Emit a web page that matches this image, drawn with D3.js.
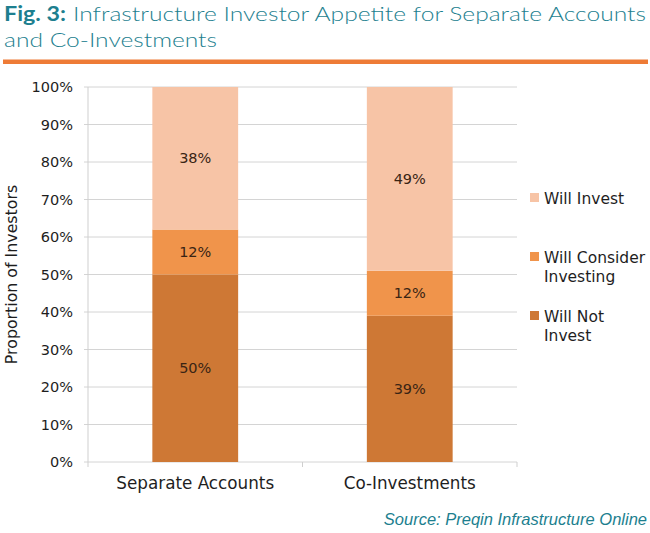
<!DOCTYPE html>
<html>
<head>
<meta charset="utf-8">
<script src="https://cdn.jsdelivr.net/npm/d3@7"></script>
<style>
  body { margin: 0; background: #fff; }
  svg { font-family: "DejaVu Sans", "Noto Sans", sans-serif; }
</style>
</head>
<body>
<div id="chart"></div>
<script>
// data
const categories = ['Separate Accounts', 'Co-Investments'];
const series = ['Will Not Invest', 'Will Consider Investing', 'Will Invest'];
const willNot = [50, 39];
const willConsider = [12, 12];
const willInvest = [38, 49];
const yTicks = [0, 10, 20, 30, 40, 50, 60, 70, 80, 90, 100];

const colors = ['#ce7835', '#f0944b', '#f7c4a6'];
const teal = '#1d7f8f';
const ink = '#1e1e1e';

const width = 650;
const height = 533;
const marginLeft = 88;
const marginRight = 133;
const marginTop = 87;
const marginBottom = 71;

const $svg = d3.select('#chart').append('svg')
  .attr('width', width)
  .attr('height', height);

// title
$svg.append('text')
  .attr('x', 4)
  .attr('y', 21)
  .attr('fill', teal)
  .attr('font-weight', 'bold')
  .style('font-family', 'Lato, sans-serif')
  .style('font-size', '20px')
  .attr('textLength', 62)
  .attr('lengthAdjust', 'spacingAndGlyphs')
  .text('Fig. 3:');
$svg.append('text')
  .attr('x', 73)
  .attr('y', 21)
  .attr('fill', teal)
  .attr('font-weight', 300)
  .style('font-family', 'Lato, sans-serif')
  .style('font-size', '20px')
  .attr('textLength', 573)
  .attr('lengthAdjust', 'spacingAndGlyphs')
  .text('Infrastructure Investor Appetite for Separate Accounts');
$svg.append('text')
  .attr('x', 4)
  .attr('y', 47)
  .attr('fill', teal)
  .attr('font-weight', 300)
  .style('font-family', 'Lato, sans-serif')
  .style('font-size', '20px')
  .attr('textLength', 213)
  .attr('lengthAdjust', 'spacingAndGlyphs')
  .text('and Co-Investments');

$svg.append('rect')
  .attr('x', 3)
  .attr('y', 59.5)
  .attr('width', 645)
  .attr('height', 4.5)
  .attr('fill', '#ee7b36');

// scales
const x = d3.scaleBand()
  .domain(categories)
  .range([marginLeft, width - marginRight])
  .paddingInner(0.6)
  .paddingOuter(0.3);

const y = d3.scaleLinear()
  .domain([0, 100])
  .range([height - marginBottom, marginTop]);

// gridlines
$svg.append('g')
  .selectAll('line')
  .data(yTicks)
  .join('line')
  .attr('x1', marginLeft - 4)
  .attr('x2', width - marginRight)
  .attr('y1', d => y(d))
  .attr('y2', d => y(d))
  .attr('stroke', '#d4d4d4')
  .attr('stroke-width', 1);

// y axis line
$svg.append('line')
  .attr('x1', marginLeft).attr('x2', marginLeft)
  .attr('y1', y(100)).attr('y2', y(0))
  .attr('stroke', '#cfcfcf');

// category separators on the baseline
const step = (width - marginRight - marginLeft) / categories.length;
$svg.append('g')
  .selectAll('line')
  .data(d3.range(categories.length + 1))
  .join('line')
  .attr('x1', i => marginLeft + i * step)
  .attr('x2', i => marginLeft + i * step)
  .attr('y1', y(0))
  .attr('y2', y(0) + 5)
  .attr('stroke', '#cfcfcf');

// y tick labels
$svg.append('g')
  .selectAll('text')
  .data(yTicks)
  .join('text')
  .attr('x', marginLeft - 15)
  .attr('y', d => y(d))
  .attr('dy', '0.36em')
  .attr('text-anchor', 'end')
  .attr('fill', ink)
  .style('font-size', '14.5px')
  .text(d => `${d}%`);

// y axis title
$svg.append('text')
  .attr('transform', `translate(17, ${(y(0) + y(100)) / 2}) rotate(-90)`)
  .attr('text-anchor', 'middle')
  .attr('fill', ink)
  .style('font-size', '15.8px')
  .text('Proportion of Investors');

// x labels
$svg.append('g')
  .selectAll('text')
  .data(categories)
  .join('text')
  .attr('x', d => x(d) + x.bandwidth() / 2)
  .attr('y', y(0) + 27)
  .attr('text-anchor', 'middle')
  .attr('fill', ink)
  .style('font-size', '16.8px')
  .text(d => d);

// stacked bars
const rows = categories.map((c, i) => ({
  category: c,
  'Will Not Invest': willNot[i],
  'Will Consider Investing': willConsider[i],
  'Will Invest': willInvest[i],
}));
const stacked = d3.stack().keys(series)(rows);

const $layer = $svg.append('g')
  .selectAll('g')
  .data(stacked)
  .join('g')
  .attr('fill', (d, i) => colors[i]);

$layer.selectAll('rect')
  .data(d => d)
  .join('rect')
  .attr('x', d => x(d.data.category))
  .attr('width', x.bandwidth())
  .attr('y', d => y(d[1]))
  .attr('height', d => y(d[0]) - y(d[1]));

$layer.selectAll('text')
  .data(d => d)
  .join('text')
  .attr('x', d => x(d.data.category) + x.bandwidth() / 2)
  .attr('y', d => (y(d[0]) + y(d[1])) / 2)
  .attr('dy', '0.36em')
  .attr('text-anchor', 'middle')
  .attr('fill', '#3a2414')
  .style('font-size', '14.5px')
  .text(d => `${d[1] - d[0]}%`);

// legend
const legendItems = [
  { label: ['Will Invest'], color: colors[2], y: 198 },
  { label: ['Will Consider', 'Investing'], color: colors[1], y: 257 },
  { label: ['Will Not', 'Invest'], color: colors[0], y: 316 },
];
const $legend = $svg.append('g')
  .selectAll('g')
  .data(legendItems)
  .join('g')
  .attr('transform', d => `translate(530, ${d.y})`);

$legend.append('rect')
  .attr('x', 0)
  .attr('y', -5)
  .attr('width', 9)
  .attr('height', 9)
  .attr('fill', d => d.color);

$legend.append('text')
  .attr('x', 14)
  .attr('y', 0)
  .attr('fill', ink)
  .style('font-size', '15.5px')
  .selectAll('tspan')
  .data(d => d.label)
  .join('tspan')
  .attr('x', 14)
  .attr('dy', (d, i) => (i === 0 ? '0.36em' : '1.27em'))
  .text(d => d);

// source
$svg.append('text')
  .attr('x', 647)
  .attr('y', 525)
  .attr('text-anchor', 'end')
  .attr('fill', teal)
  .attr('font-style', 'italic')
  .style('font-family', '"Liberation Sans", Arial, sans-serif')
  .style('font-size', '16.5px')
  .text('Source: Preqin Infrastructure Online');
</script>
</body>
</html>
